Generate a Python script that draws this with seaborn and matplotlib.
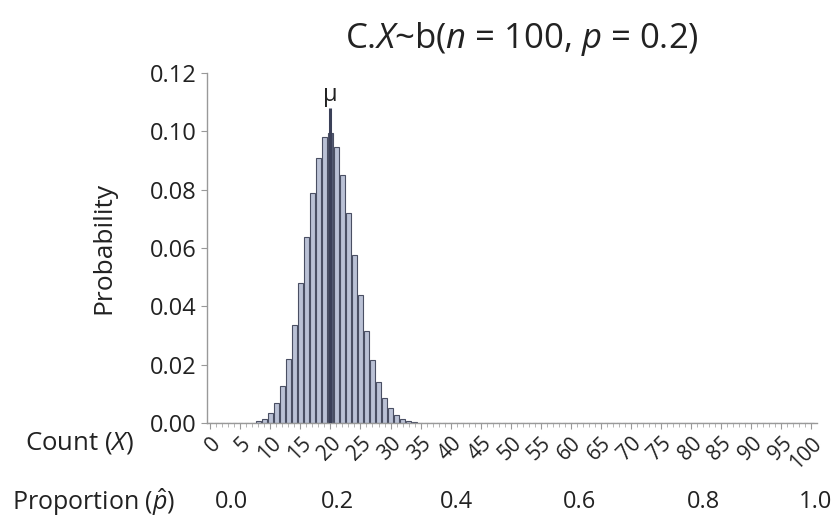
import matplotlib
matplotlib.use("Agg")
import matplotlib.pyplot as plt
import matplotlib.transforms as mtransforms
import numpy as np
import pandas as pd
import seaborn as sns

# Binomial parameters shown in the title
n_trials = 100
p_success = 0.2

# Probability of each count (counts outside 5..36 are ~0)
counts = list(range(0, 101))
prob_nonzero_start = 5
prob_nonzero = [
    0.00002, 0.00006, 0.0002, 0.0006, 0.0015,             # 5-9
    0.0034, 0.0069, 0.0128, 0.0220, 0.0335,               # 10-14
    0.0481, 0.0638, 0.0788, 0.0909, 0.0981,               # 15-19
    0.0993, 0.0946, 0.0849, 0.0720, 0.0577,               # 20-24
    0.0439, 0.0316, 0.0217, 0.0141, 0.0088,               # 25-29
    0.0052, 0.0029, 0.0016, 0.0008, 0.0004,               # 30-34
    0.0002, 0.0001,                                       # 35-36
]
probabilities = [0.0] * len(counts)
for i, v in enumerate(prob_nonzero):
    probabilities[prob_nonzero_start + i] = v

count_ticks = list(range(0, 101, 5))
y_ticks = [0.00, 0.02, 0.04, 0.06, 0.08, 0.10, 0.12]
proportion_labels = ["0.0", "0.2", "0.4", "0.6", "0.8", "1.0"]
proportion_label_at_count = [3.6, 21.1, 40.9, 61.5, 82.0, 100.8]

mean_count = n_trials * p_success

sns.set_theme(style="white")
plt.rcParams["font.family"] = ["Open Sans", "DejaVu Sans"]
plt.rcParams["mathtext.fontset"] = "custom"
plt.rcParams["mathtext.rm"] = "Open Sans"
plt.rcParams["mathtext.it"] = "Open Sans:italic"

df = pd.DataFrame({
    "count": counts,
    "prob": probabilities,
    "group": ["mean" if c == mean_count else "other" for c in counts],
})

fig = plt.figure(figsize=(8.39, 5.18), dpi=100)
ax = fig.add_axes([0.247, 0.183, 0.727, 0.676])

sns.barplot(
    data=df, x="count", y="prob", hue="group",
    palette={"other": "#b6bfd9", "mean": "#4f5878"},
    native_scale=True, width=0.85, dodge=False, legend=False,
    edgecolor="#4a4f63", linewidth=0.8, ax=ax,
)

# Mean marker
ax.vlines(mean_count, 0, 0.108, color="#3b4058", linewidth=2.2, zorder=5)
ax.text(mean_count, 0.1085, "μ", ha="center", va="bottom", fontsize=17, color="#222222")

ax.set_xlim(-0.5, 101)
ax.set_ylim(0, 0.12)
ax.set_yticks(y_ticks)
ax.set_yticklabels([f"{v:.2f}" for v in y_ticks], fontsize=17, color="#222222")
ax.set_xticks(count_ticks)
ax.set_xticklabels([str(c) for c in count_ticks], rotation=45, ha="right",
                   rotation_mode="anchor", fontsize=15, color="#222222")
ax.set_xticks(counts, minor=True)
ax.tick_params(axis="x", which="major", length=4, width=0.8, color="#999999", pad=3, direction="out", bottom=True)
ax.tick_params(axis="x", which="minor", length=3, width=0.6, color="#aaaaaa", direction="out", bottom=True)
ax.tick_params(axis="y", which="major", length=4, width=0.8, color="#999999", direction="out", left=True)

ax.set_xlabel("")
ax.set_ylabel("Probability", fontsize=19, color="#222222", labelpad=24)

for side in ["top", "right"]:
    ax.spines[side].set_visible(False)
for side in ["left", "bottom"]:
    ax.spines[side].set_color("#999999")
    ax.spines[side].set_linewidth(1.0)

# Proportion scale beneath the count axis
trans = mtransforms.blended_transform_factory(ax.transData, fig.transFigure)
for pos, lab in zip(proportion_label_at_count, proportion_labels):
    ax.text(pos, 0.031, lab, transform=trans, ha="center", va="center",
            fontsize=17, color="#222222", clip_on=False)

fig.text(0.095, 0.145, r"Count ($\mathit{X}$)", ha="center", va="center", fontsize=18.5, color="#222222")
fig.text(0.111, 0.031, r"Proportion ($\hat{\mathit{p}}$)", ha="center", va="center", fontsize=18, color="#222222")

fig.text(0.622, 0.925, r"C.$\mathit{X}$~b($\mathit{n}$ = 100, $\mathit{p}$ = 0.2)",
         ha="center", va="center", fontsize=25, color="#222222")

fig.savefig("out.png", dpi=100)
